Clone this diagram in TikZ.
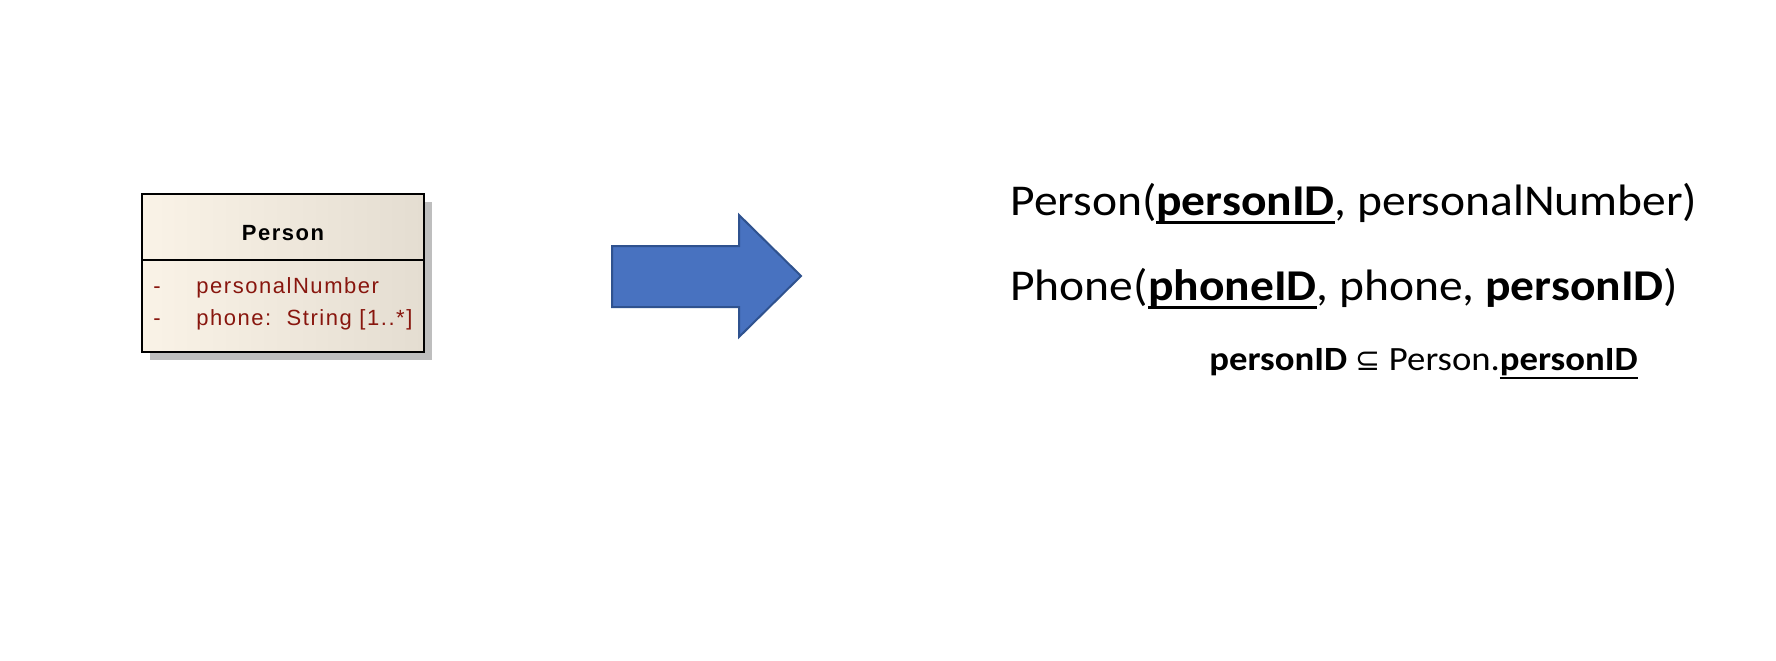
\documentclass[tikz,border=0pt]{standalone}
\usepackage{fontspec}
\setmainfont{Carlito}[FakeStretch=1.08]
\newfontfamily\umlfont[LetterSpace=7]{Liberation Sans}
\newfontfamily\symfont{DejaVu Sans}
\definecolor{umlred}{RGB}{136,22,14}
\definecolor{umlleft}{RGB}{250,243,231}
\definecolor{umlright}{RGB}{228,221,209}
\definecolor{umlshadow}{RGB}{190,190,190}
\definecolor{arrowfill}{RGB}{72,114,192}
\definecolor{arrowdraw}{RGB}{47,82,143}
\newcommand\pkul[2][-0.2em]{\setbox0\hbox{#2}\rlap{\rule[#1]{\wd0}{0.07em}}\box0}
\begin{document}
\begin{tikzpicture}[x=0.5pt,y=-0.5pt,
  classbox/.style={draw=black, line width=1pt, minimum width=141pt, minimum height=79pt, inner sep=0, left color=umlleft, right color=umlright},
  umltitle/.style={anchor=base, inner sep=0, font=\umlfont\fontsize{11}{13}\selectfont\bfseries},
  umlattr/.style={anchor=base west, inner sep=0, font=\umlfont\fontsize{11}{13}\selectfont, text=umlred},
  relbig/.style={anchor=base west, inner sep=0, font=\fontsize{22}{26}\selectfont},
  relsmall/.style={anchor=base west, inner sep=0, font=\fontsize{17}{20}\selectfont},
  bigarrow/.style={fill=arrowfill, draw=arrowdraw, line width=1pt, line join=miter}
]
\useasboundingbox[fill=white] (0,0) rectangle (1776,660);
% UML class
\fill[umlshadow] (150,202) rectangle (432,360);
\node[classbox] (cls) at (283,273) {};
\coordinate (divL) at (142,260);
\coordinate (divR) at (424,260);
\draw[line width=1pt] (divL) -- (divR);
\node[umltitle] (title) at (283,240) {Person};
\node[umlattr] (d1) at (153,293) {-};
\node[umlattr] (a1) at (196,293) {personalNumber};
\node[umlattr] (d2) at (153,325.5) {-};
\node[umlattr] (a2) at (196,325.5) {phone:\ \ String [1..*]};
% big arrow
\draw[bigarrow] (612,246) -- (739,246) -- (739,215) -- (801,276) -- (739,337) -- (739,307) -- (612,307) -- cycle;
% relational schema
\node[relbig] (r1) at (1010,215) {Person(\pkul{\textbf{personID}}, personalNumber)};
\node[relbig] (r2) at (1010,300) {Phone(\pkul{\textbf{phoneID}}, phone, \textbf{personID})};
\node[relsmall] (r3) at (1209,370) {\textbf{personID} {\symfont\fontsize{15}{18}\selectfont ⊆} Person.\pkul[-0.27em]{\textbf{personID}}};
\end{tikzpicture}
\end{document}
